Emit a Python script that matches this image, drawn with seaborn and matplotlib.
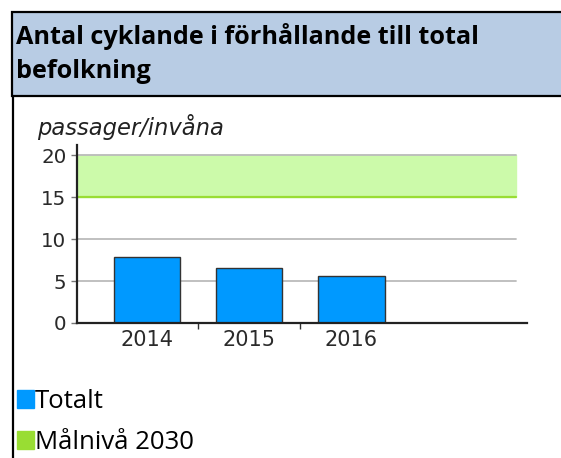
import matplotlib
matplotlib.use("Agg")
import matplotlib.pyplot as plt
import matplotlib.patches as mpatches
from matplotlib.lines import Line2D
import seaborn as sns
import pandas as pd

# data
years = ['2014', '2015', '2016']
totalt = [7.9, 6.6, 5.6]
target_low = 15
target_high = 20
yticks = [0, 5, 10, 15, 20]

title_lines = ['Antal cyklande i förhållande till total', 'befolkning']
ylabel = 'passager/invåna'
legend_labels = ['Totalt', 'Målnivå 2030']

W, H = 561, 458
BLUE = '#0099FF'
GREEN_FILL = '#CCFAAA'
GREEN_LINE = '#99DD33'
HEADER = '#B8CCE4'
GRID = '#BBBBBB'

sns.set_style('white')
plt.rcParams['font.family'] = ['DejaVu Sans']

fig = plt.figure(figsize=(W / 100, H / 100), dpi=100)


def fx(px):
    return px / W


def fy(py):
    return (H - py) / H


# header box and left border
fig.patches.append(mpatches.Rectangle((fx(12), fy(96)), 1.2, (96 - 12) / H,
                                      transform=fig.transFigure, facecolor=HEADER,
                                      edgecolor='black', linewidth=1.6, zorder=0))
fig.lines.append(Line2D([fx(13), fx(13)], [0, fy(96)], transform=fig.transFigure,
                        color='black', linewidth=1.6))
fig.text(fx(16), fy(36), title_lines[0], fontsize=18.2, fontweight='bold',
         family='Open Sans', color='black', va='center', ha='left')
fig.text(fx(16), fy(72), title_lines[1], fontsize=18.2, fontweight='bold',
         family='Open Sans', color='black', va='center', ha='left')

# chart
ax = fig.add_axes([fx(77), fy(323), (527 - 77) / W, (323 - 145) / H])
df = pd.DataFrame({'year': years, 'value': totalt})

xmin, xmax = -0.686, 3.72
grid_frac = (516 - 77) / (527 - 77)

ax.axhspan(target_low, target_high, xmax=grid_frac, color=GREEN_FILL, zorder=0)
for y in [5, 10, target_high]:
    ax.axhline(y, xmax=grid_frac, color=GRID, linewidth=1.3, zorder=0.5)
ax.axhline(target_low, xmax=grid_frac, color=GREEN_LINE, linewidth=1.6, zorder=0.6)

sns.barplot(data=df, x='year', y='value', color=BLUE, saturation=1, width=0.65,
            edgecolor='#333333', linewidth=1.0, ax=ax, zorder=2)

ax.set_xlim(xmin, xmax)
ax.set_ylim(0, 21.2)
ax.set_yticks(yticks)
ax.set_xlabel('')
ax.set_ylabel('')
for s in ['top', 'right']:
    ax.spines[s].set_visible(False)
for s in ['left', 'bottom']:
    ax.spines[s].set_color('#222222')
    ax.spines[s].set_linewidth(1.6)
ax.tick_params(axis='y', length=4, width=1, color='#777777', labelsize=14.3,
               labelcolor='#2a2a2a', pad=3.5, left=True)
ax.tick_params(axis='x', length=0, labelsize=15, labelcolor='#2a2a2a', pad=5)
ax.set_xticks([0.5, 1.5], minor=True)
ax.tick_params(axis='x', which='minor', length=4, width=1, color='#333333',
               bottom=True, direction='out')

fig.text(fx(37), fy(127), ylabel, fontsize=16.3, style='italic', color='#222222',
         va='center', ha='left')

# legend
handles = [mpatches.Patch(color=BLUE, label=legend_labels[0]),
           mpatches.Patch(color=GREEN_LINE, label=legend_labels[1])]
fig.legend(handles=handles, loc='upper left', bbox_to_anchor=(fx(17), fy(389)),
           frameon=False, prop={'family': 'Open Sans', 'size': 18.5},
           labelcolor='black',
           handlelength=0.66, handleheight=0.66, handletextpad=0.05,
           labelspacing=0.62, borderaxespad=0, borderpad=0)

fig.savefig('out.png', dpi=100)
